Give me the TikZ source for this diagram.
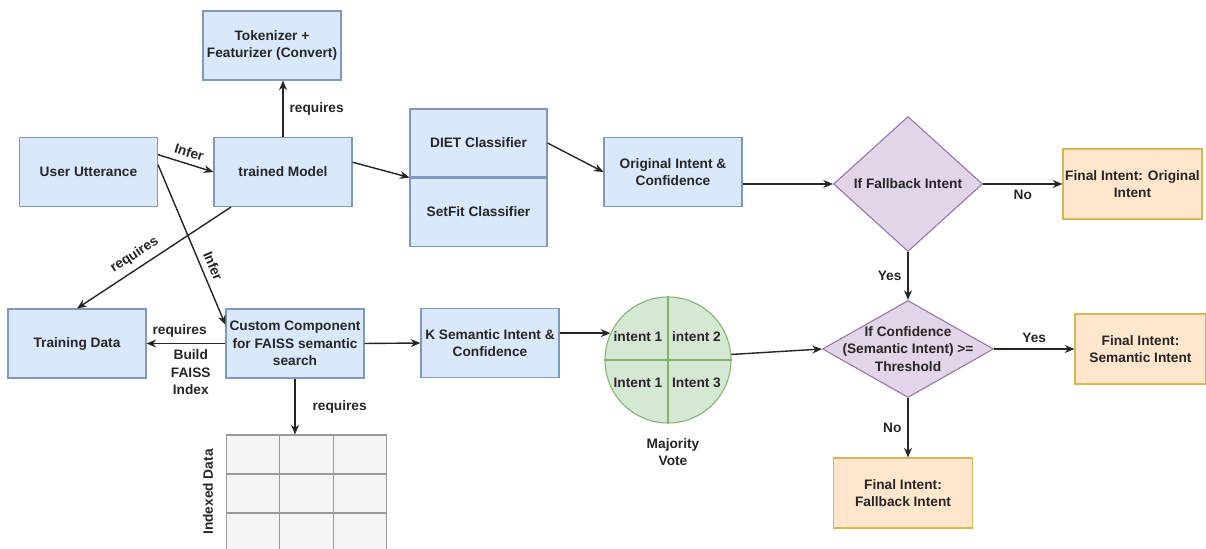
\documentclass[tikz,border=0pt]{standalone}
\usepackage{fontspec}
\setmainfont{Liberation Sans}
\usetikzlibrary{positioning}
\usetikzlibrary{arrows.meta}
\usetikzlibrary{shapes.geometric}
\definecolor{blueFill}{HTML}{DAE8FC}
\definecolor{blueLine}{HTML}{7F98BF}
\definecolor{purpleFill}{HTML}{E1D5E7}
\definecolor{purpleLine}{HTML}{9673A6}
\definecolor{orangeFill}{HTML}{FFE6CC}
\definecolor{orangeLine}{HTML}{D6B656}
\definecolor{greenFill}{HTML}{D5E8D4}
\definecolor{greenLine}{HTML}{82B366}
\definecolor{cellFill}{HTML}{F5F5F5}
\definecolor{cellLine}{HTML}{999999}
\definecolor{ink}{HTML}{262626}
\tikzset{
block/.style={ % Sets the properties for each blue box
draw=blueLine,
fill=blueFill,
semithick,
minimum width=2.76cm, minimum height=1.38cm,
inner xsep=1pt,
align=center},
decision/.style={ % Purple diamonds
shape=diamond,
draw=purpleLine,
fill=purpleFill,
semithick,
inner sep=0pt,
align=center},
result/.style={ % Final intent boxes
draw=orangeLine,
fill=orangeFill,
semithick,
minimum width=2.78cm, minimum height=1.4cm,
inner xsep=1pt,
align=center},
cell/.style={ % Cells of the index table
draw=cellLine,
fill=cellFill,
semithick,
minimum width=1.07cm, minimum height=0.78cm,
inner sep=0pt},
every edge/.style={ % Sets the properties for each connector
draw=ink,
->, % Filled arrow heads
auto,
thick}}

\begin{document}
\begin{tikzpicture}[font=\fontsize{7.8}{9.8}\selectfont\bfseries, text=ink,
	>={Stealth[length=5.5pt,width=4.5pt]}]
	\clip (0,0) rectangle (24.12,-10.98);
	% upper row
	\node[block] (tok) at (5.44,-0.91) {Tokenizer +\\Featurizer (Convert)};
	\node[block] (utt) at (1.77,-3.44) {User Utterance};
	\node[block] (model) at (5.66,-3.44) {trained Model};
	\node[block, minimum width=2.74cm, minimum height=1.36cm] (diet) at (9.57,-2.86) {DIET Classifier};
	\node[block, minimum width=2.74cm, minimum height=1.36cm, below=0pt of diet] (setfit) {SetFit Classifier};
	\node[block] (orig) at (13.46,-3.44) {Original Intent \&\\Confidence};
	\node[decision, minimum width=2.98cm, minimum height=2.7cm] (fb) at (18.16,-3.68) {If Fallback Intent};
	\node[result] (fin1) at (22.65,-3.68) {Final Intent: Original\\Intent};
	% lower row
	\node[block] (train) at (1.54,-6.87) {Training Data};
	\node[block] (custom) at (5.9,-6.87) {Custom Component\\for FAISS semantic\\search};
	\node[block] (ksem) at (9.8,-6.86) {K Semantic Intent \&\\Confidence};
	\node[circle, draw=greenLine, fill=greenFill, semithick, minimum size=2.52cm, inner sep=0pt] (vote) at (13.36,-7.2) {};
	\draw[greenLine, semithick] (vote.north) -- (vote.south) (vote.west) -- (vote.east);
	\node (q1) at ([shift={(-0.6,0.46)}]vote.center) {intent 1};
	\node (q2) at ([shift={(0.57,0.46)}]vote.center) {intent 2};
	\node (q3) at ([shift={(-0.6,-0.46)}]vote.center) {Intent 1};
	\node (q4) at ([shift={(0.57,-0.46)}]vote.center) {Intent 3};
	\node[align=center] (votelbl) at (13.46,-9.04) {Majority\\Vote};
	\node[decision, minimum width=3.42cm, minimum height=1.94cm,
		label={[align=center]center:If Confidence\\(Semantic Intent) >=\\Threshold}] (conf) at (18.16,-6.98) {};
	\node[result, minimum width=2.62cm] (fin2) at (22.81,-6.98) {Final Intent:\\Semantic Intent};
	\node[result] (fin3) at (18.06,-9.86) {Final Intent:\\Fallback Intent};
	% index table
	\foreach \r/\y in {1/-9.09,2/-9.87,3/-10.65}
		\foreach \c/\x in {1/5.06,2/6.13,3/7.2}
			\node[cell] (c\r\c) at (\x,\y) {};
	\node[rotate=90] (idxlbl) at (4.16,-9.84) {Indexed Data};
	% connectors
	\draw (model.north) edge node[swap]{requires} (model.north |- tok.south);
	\draw (utt.14) edge node[sloped, above]{Infer} (model.west);
	\draw (model.8) edge (diet.south west);
	\draw (diet.east) edge (orig.west);
	\draw (orig.east |- fb.west) edge (fb.west);
	\draw (fb.east) edge node[below]{No} (fin1.west);
	\draw (fb.south) edge node[left]{Yes} (conf.north);
	\draw (train.north) edge[<-] node[sloped, above, pos=0.42]{requires} (model.214);
	\draw (utt.6) edge node[sloped, above, pos=0.66]{Infer} (custom.165);
	\draw (custom.west) edge node[above, pos=0.58]{requires} node[below, pos=0.44, align=center]{Build\\FAISS\\Index} (train.east);
	\draw (custom.east) edge (ksem.west);
	\draw (ksem.east |- vote.155) edge (vote.155);
	\draw (vote.5) edge (conf.west);
	\draw (custom.south) edge node[right, xshift=0.22cm]{requires} (custom.south |- c12.north);
	\draw (conf.east) edge node[above]{Yes} (fin2.west);
	\draw (conf.south) edge node[left]{No} (conf.south |- fin3.north);
\end{tikzpicture}
\end{document}
